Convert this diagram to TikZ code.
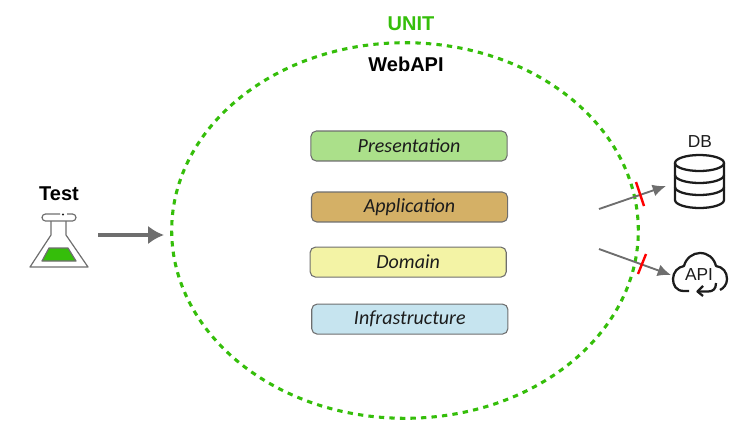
\documentclass[tikz,border=0pt]{standalone}
\usepackage{fontspec}
\setmainfont{Liberation Sans}
\newfontfamily\handfont{Carlito}
\usetikzlibrary{positioning,arrows.meta,shapes.geometric}
\definecolor{unitgreen}{HTML}{35BE0A}
\definecolor{linegray}{HTML}{6E6E6E}
\definecolor{iconink}{HTML}{1C1C1C}
\begin{document}
\begin{tikzpicture}[
        x=0.75pt, y=-0.75pt,
        unitline/.style={ellipse, draw=unitgreen, line width=2.3pt, dash pattern=on 4pt off 3.9pt, minimum width=12.3cm, minimum height=9.9cm, inner sep=0pt},
        layer/.style={rectangle, draw=linegray, line width=0.8pt, rounded corners=4pt, minimum width=5.17cm, minimum height=0.79cm, align=center, text=iconink, font=\handfont\itshape\fontsize{15}{18}\selectfont},
        title/.style={font=\bfseries\fontsize{15}{18}\selectfont},
        iconlabel/.style={text=iconink, inner sep=0pt, font=\fontsize{13}{15}\selectfont},
        arrow/.style={-{Latex[length=10pt,width=9pt]}, draw=linegray, line width=1.4pt},
        arrow-test/.style={-{Latex[length=12pt,width=14pt]}, draw=linegray, line width=2.4pt},
        cut/.style={draw=red, line width=1.8pt},
        icon/.style={draw=iconink, line width=1.7pt, line join=round},
        flask/.style={draw=linegray, line width=0.9pt, line join=round}
    ]
    \useasboundingbox (0,0) rectangle (749,433);

    % Boundary of the unit
    \node[unitline] (unit) at (405,230.5) {};
    \node[title, text=unitgreen] (unitname) at (411,24) {UNIT};
    \node[title] (webapi) at (406,64) {WebAPI};

    % Layers
    \node[layer, fill={rgb,255:red,171;green,224;blue,138}] (pres) at (409,146) {Presentation};
    \node[layer, fill={rgb,255:red,212;green,176;blue,102}] (app) [below=0.79cm of pres, xshift=0.4pt] {Application};
    \node[layer, fill={rgb,255:red,243;green,243;blue,165}] (dom) [below=0.634cm of app, xshift=-1pt] {Domain};
    \node[layer, fill={rgb,255:red,198;green,228;blue,239}] (infra) [below=0.684cm of dom, xshift=1.2pt] {Infrastructure};

    % Test side
    \node[title] (test) at (59,194) {Test};
    \fill[unitgreen] (49,248) -- (68,248) -- (76,261) -- (42,261) -- cycle;
    \draw[flask] (49,248) -- (68,248) -- (76,261) -- (42,261) -- cycle;
    \draw[flask] (51,221) -- (51,235) -- (30,267) -- (88,267) -- (66,235) -- (66,221);
    \draw[flask] (60,214) -- (45.5,214) arc[start angle=-90, end angle=-270, radius=3.5] -- (72.5,221) arc[start angle=90, end angle=-90, radius=3.5] -- (67,214);
    \fill[iconink] (63,214.5) circle[radius=1.2];
    \coordinate (testout) at (98,235);
    \coordinate (testin) at (164,235);
    \draw[arrow-test] (testout) -- (testin);

    % Database
    \node[iconlabel] (db) at (700,142) {DB};
    \draw[icon] (675,163) -- (675,200) arc[start angle=180, end angle=0, x radius=24.5, y radius=8] -- (724,163);
    \draw[icon] (699.5,163) ellipse[x radius=24.5, y radius=8];
    \draw[icon] (675,175) arc[start angle=180, end angle=0, x radius=24.5, y radius=8];
    \draw[icon] (675,187) arc[start angle=180, end angle=0, x radius=24.5, y radius=8];
    \coordinate (dbout) at (599,209);
    \coordinate (dbin) at (666,186);
    \draw[arrow] (dbout) -- (dbin);
    \coordinate (dbcuta) at (636,182);
    \coordinate (dbcutb) at (644,206);
    \draw[cut] (dbcuta) -- (dbcutb);

    % External API
    \node[iconlabel] (api) at (699,275) {API};
    \draw[icon] (689,291) -- (684,291)
        .. controls (676,291) and (673,285) .. (673,279)
        .. controls (673,272) and (678,267) .. (684,266)
        .. controls (686,258) and (693,253) .. (700,253)
        .. controls (708,253) and (714,258) .. (716,266)
        .. controls (723,267) and (727,272) .. (727,279)
        .. controls (727,284) and (724,288) .. (720,290);
    \draw[icon] (716,283) .. controls (716,289) and (713,291.5) .. (708,291.5) -- (698,291.5);
    \draw[icon] (703,286) -- (697.5,291.5) -- (703,296);
    \coordinate (apiout) at (599,249);
    \coordinate (apiin) at (671,275);
    \draw[arrow] (apiout) -- (apiin);
    \coordinate (apicuta) at (646,254);
    \coordinate (apicutb) at (638,274);
    \draw[cut] (apicuta) -- (apicutb);
\end{tikzpicture}
\end{document}
